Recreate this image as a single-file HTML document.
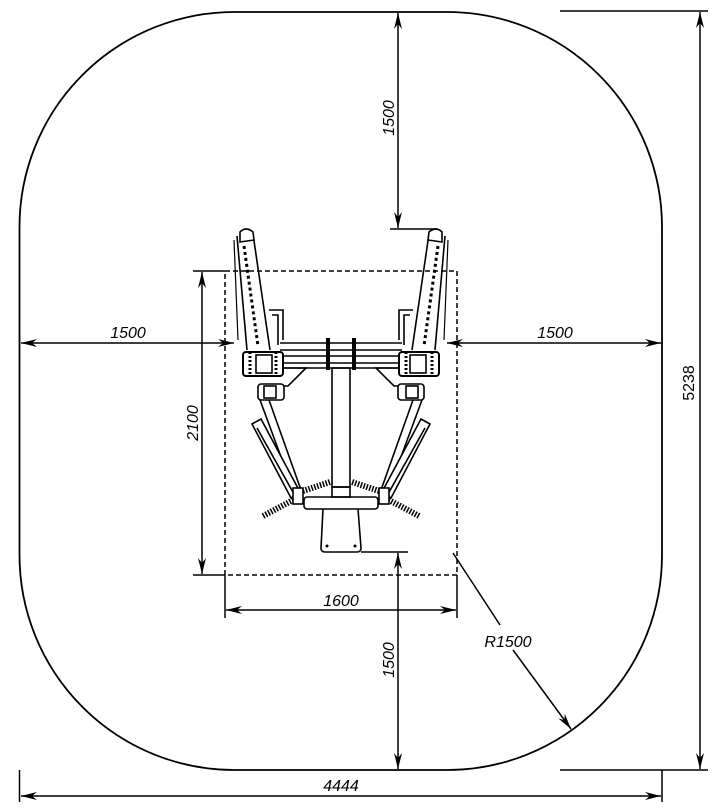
<!DOCTYPE html>
<html><head><meta charset="utf-8"><style>
html,body{margin:0;padding:0;background:#fff;}
svg{display:block;}
text{font-family:"Liberation Sans",sans-serif;font-style:italic;font-size:16px;fill:#000;}
</style></head><body>
<svg width="717" height="808" viewBox="0 0 717 808" xmlns="http://www.w3.org/2000/svg">
<defs>
<marker id="a" viewBox="0 0 16 8" refX="16" refY="4" markerWidth="16" markerHeight="8" markerUnits="userSpaceOnUse" orient="auto-start-reverse">
<path d="M0,0 L16,4 L0,8 L5,4 Z" fill="#000"/>
</marker>
<g id="arm" fill="none" stroke="#000" stroke-width="1.6">
  <!-- upper arm -->
  <path d="M237,236 L247,350 M253,234 L270,350" />
  <path d="M240,232 Q246,226 253,232 L254,240 L240,242 Z" fill="#fff"/>
  <path d="M244,246 L258,346" stroke-width="3" stroke-dasharray="3 3"/>
  <path d="M234,240 L238,340" stroke-width="1.2"/>
  <!-- bracket -->
  <path d="M269,310 L283,310 L283,340 M272,315 L278,315 L278,345"/>
  <!-- hub -->
  <rect x="243" y="352" width="40" height="24" rx="3" fill="#fff" stroke-width="2"/>
  <path d="M250,352 L250,376 M276,352 L276,376" stroke-width="3" stroke-dasharray="2 2"/>
  <rect x="256" y="355" width="16" height="18"/>
  <!-- gusset -->
  <path d="M283,368 L306,368 L288,386 L283,386"/>
  <!-- lower joint -->
  <rect x="258" y="384" width="26" height="16" rx="3" fill="#fff"/>
  <rect x="264" y="386" width="12" height="12"/>
  <!-- lower arm -->
  <path d="M260,400 L294,492 M269,400 L301,490"/>
  <!-- pad -->
  <path d="M252,424 L261,419 L300,492 L291,498 Z" fill="#fff"/>
  <path d="M257,428 L294,494"/>
  <!-- springs -->
  <path d="M263,516 L293,500" stroke-width="6" stroke-dasharray="1.5 1.5"/>
  <path d="M300,492 L330,482" stroke-width="6" stroke-dasharray="1.5 1.5"/>
  <rect x="293" y="488" width="10" height="16" fill="#fff"/>
</g>
</defs>
<!-- outer rounded area -->
<rect x="19.5" y="12" width="642.5" height="758" rx="215" ry="215" fill="none" stroke="#000" stroke-width="1.8"/>
<!-- dashed footprint -->
<rect x="225" y="271" width="232" height="304" fill="none" stroke="#000" stroke-width="1.5" stroke-dasharray="5 3"/>

<!-- machine -->
<g fill="none" stroke="#000" stroke-width="1.6">
  <path d="M280,343 L402,343 M280,350 L402,350 M280,356 L402,356 M280,363 L402,363 M280,368 L402,368"/>
  <rect x="326" y="338" width="4" height="32" fill="#000" stroke="none"/>
  <rect x="352" y="338" width="4" height="32" fill="#000" stroke="none"/>
  <rect x="332" y="368" width="18" height="119"/>
  <rect x="332" y="487" width="18" height="10"/>
  <rect x="304" y="497" width="74" height="12" rx="3"/>
  <path d="M323,509 L321,548 Q321,552 325,552 L357,552 Q361,552 361,548 L358,509"/>
  <path d="M361,552 L408,552"/>
</g>
<circle cx="327" cy="546" r="1.5"/><circle cx="355" cy="546" r="1.5"/>
<use href="#arm"/>
<use href="#arm" transform="translate(682,0) scale(-1,1)"/>

<!-- dimension lines -->
<g stroke="#000" stroke-width="1.5" fill="none">
  <!-- top 1500 -->
  <line x1="398" y1="13" x2="398" y2="228" marker-start="url(#a)" marker-end="url(#a)"/>
  <line x1="390" y1="229" x2="437" y2="229"/>
  <!-- left 1500 -->
  <line x1="21" y1="343" x2="234" y2="343" marker-start="url(#a)" marker-end="url(#a)"/>
  <!-- right 1500 -->
  <line x1="447" y1="343" x2="661" y2="343" marker-start="url(#a)" marker-end="url(#a)"/>
  <!-- 2100 -->
  <line x1="193" y1="271" x2="225" y2="271"/>
  <line x1="193" y1="575" x2="225" y2="575"/>
  <line x1="202" y1="272" x2="202" y2="574" marker-start="url(#a)" marker-end="url(#a)"/>
  <!-- 1600 -->
  <line x1="225" y1="575" x2="225" y2="618"/>
  <line x1="457" y1="575" x2="457" y2="618"/>
  <line x1="226" y1="610" x2="456" y2="610" marker-start="url(#a)" marker-end="url(#a)"/>
  <!-- bottom 1500 -->
  <line x1="398" y1="553" x2="398" y2="769" marker-start="url(#a)" marker-end="url(#a)"/>
  <!-- R1500 -->
  <line x1="453" y1="553" x2="500" y2="625"/>
  <line x1="513" y1="650" x2="571" y2="729" marker-end="url(#a)"/>
  <!-- 4444 -->
  <line x1="19.5" y1="770" x2="19.5" y2="802"/>
  <line x1="662" y1="770" x2="662" y2="802"/>
  <line x1="21" y1="796" x2="661" y2="796" marker-start="url(#a)" marker-end="url(#a)"/>
  <!-- 5238 -->
  <line x1="560" y1="11" x2="708" y2="11"/>
  <line x1="560" y1="770" x2="708" y2="770"/>
  <line x1="700" y1="12" x2="700" y2="769" marker-start="url(#a)" marker-end="url(#a)"/>
</g>

<text x="128" y="338" text-anchor="middle">1500</text>
<text x="555" y="338" text-anchor="middle">1500</text>
<text x="341" y="606" text-anchor="middle">1600</text>
<text x="341" y="791" text-anchor="middle">4444</text>
<text x="508" y="647" text-anchor="middle">R1500</text>
<text transform="translate(394,118) rotate(-90)" text-anchor="middle">1500</text>
<text transform="translate(394,660) rotate(-90)" text-anchor="middle">1500</text>
<text transform="translate(198,423) rotate(-90)" text-anchor="middle">2100</text>
<text transform="translate(694,383) rotate(-90)" text-anchor="middle" style="font-style:normal">5238</text>
</svg>
</body></html>
